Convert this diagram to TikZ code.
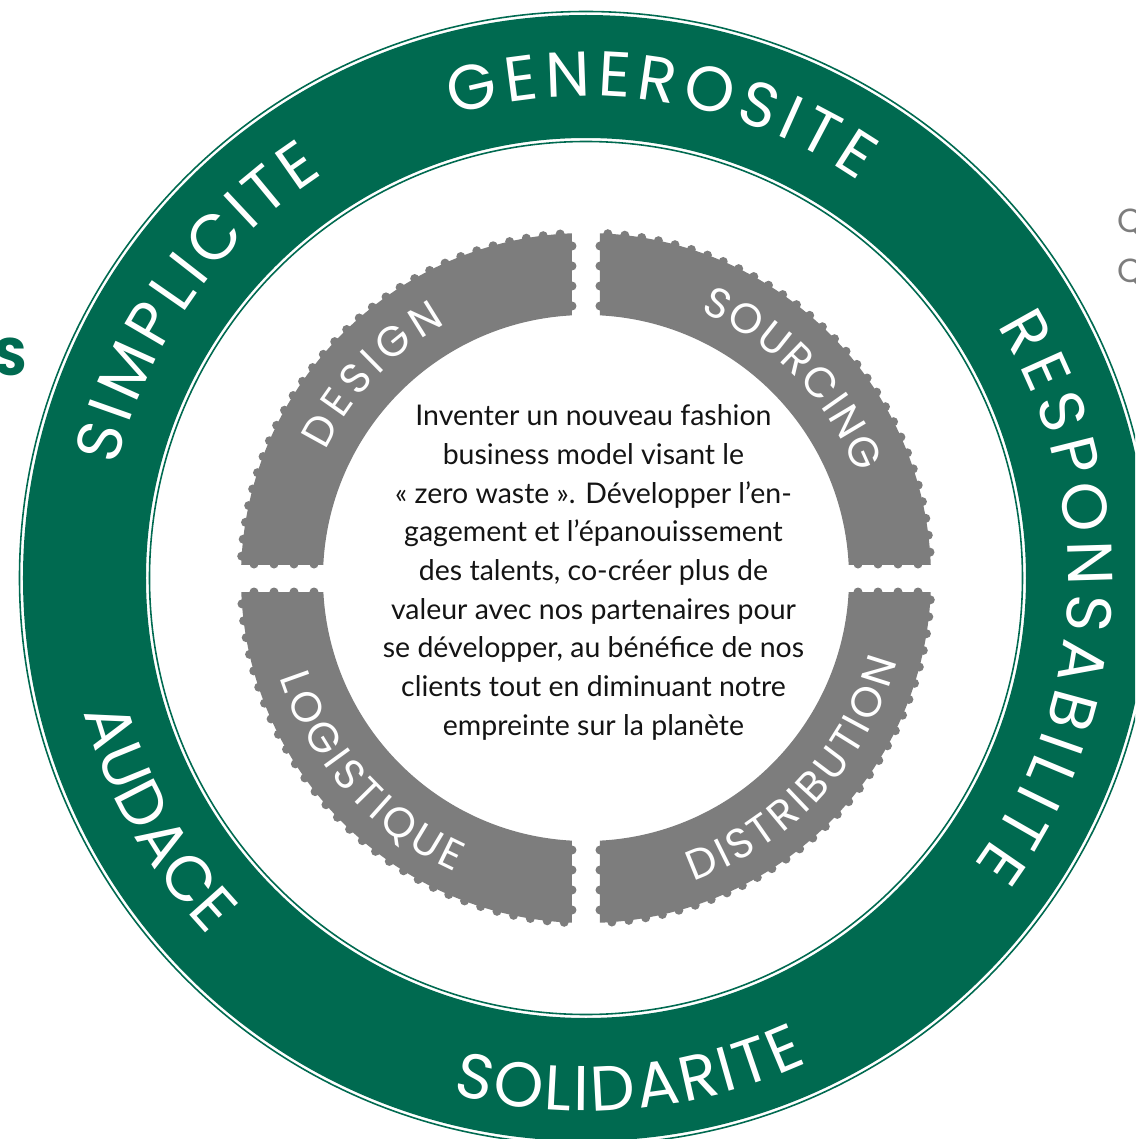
\documentclass[tikz,border=0pt]{standalone}
\usepackage{fontspec}
\setmainfont{Lato}
\newfontfamily\capsfont{Poppins}
\usetikzlibrary{decorations.text}
\definecolor{ringgreen}{RGB}{0,106,80}
\definecolor{stampgray}{RGB}{125,125,125}
\definecolor{inkblack}{RGB}{20,20,20}
\newcommand\valuefont{\capsfont\fontsize{18}{20}\selectfont}
\newcommand\stepfont{\capsfont\fontsize{12}{14}\selectfont}
\newcommand\bodyfont{\fontsize{8.1}{11}\selectfont}
\begin{document}
\begin{tikzpicture}[x=0.01cm,y=0.01cm,
  valueword/.style={decorate, decoration={text along path, text align={fit to path},
      text color=white, text={|\valuefont|#1}}},
  stepword/.style={decorate, decoration={text along path, text align={fit to path},
      text color=white, text={|\stepfont|#1}}},
  bump/.style={fill=stampgray}]
\useasboundingbox (-586,-561) rectangle (549,578);
\clip (-586,-561) rectangle (549,578);

% outer ring of values
\fill[ringgreen, even odd rule] (0,0) circle[radius=563] circle[radius=440];
\draw[ringgreen, line width=0.45pt] (0,0) circle[radius=566.5];
\draw[ringgreen, line width=0.45pt] (0,0) circle[radius=436.5];

% four perforated segments of the value chain
\foreach \sx/\sy/\a in {1/1/0, -1/1/90, -1/-1/180, 1/-1/270} {
  \begin{scope}
    \clip (\sx*14,\sy*14) rectangle (\sx*360,\sy*360);
    \fill[stampgray, even odd rule] (0,0) circle[radius=345] circle[radius=263];
  \end{scope}
  \foreach \k in {0,...,29}
    \fill[bump] ({\a+4.3+\k*2.83}:345) circle[radius=4.5];
  \foreach \d in {272,292,312,332} {
    \fill[bump] (\sx*14,\sy*\d) circle[radius=4.5];
    \fill[bump] (\sx*\d,\sy*14) circle[radius=4.5];
  }
}

% values
\path[valueword=SIMPLICITE] (166.5:482) arc[start angle=166.5, end angle=123, radius=482];
\path[valueword=GENEROSITE] (106:482) arc[start angle=106, end angle=55.5, radius=482];
\path[valueword=RESPONSABILITE] (31.5:482) arc[start angle=31.5, end angle=-36.5, radius=482];
\path[valueword=SOLIDARITE] (255.5:533) arc[start angle=255.5, end angle=294.5, radius=533];
\path[valueword=AUDACE] (195:520) arc[start angle=195, end angle=223.5, radius=520];

% steps
\path[stepword=DESIGN] (154:290) arc[start angle=154, end angle=119, radius=290];
\path[stepword=SOURCING] (66.7:290) arc[start angle=66.7, end angle=21, radius=290];
\path[stepword=LOGISTIQUE] (198:322) arc[start angle=198, end angle=246, radius=322];
\path[stepword=DISTRIBUTION] (289.5:322) arc[start angle=289.5, end angle=345, radius=322];

% mission statement
\node[align=center, font=\bodyfont, text=inkblack, inner sep=0] (mission) at (7.5,5.5)
  {Inventer un nouveau fashion\\
   business model visant le\\
   « zero waste ». Développer l’en-\\
   gagement et l’épanouissement\\
   des talents, co-créer plus de\\
   valeur avec nos partenaires pour\\
   se développer, au bénéfice de nos\\
   clients tout en diminuant notre\\
   empreinte sur la planète};

% neighbouring page content
\node[anchor=base east, inner sep=0, text=ringgreen, font=\capsfont\bfseries\fontsize{15}{16}\selectfont] (leftword) at (-558,203) {S};
\node[anchor=base west, inner sep=0, text=stampgray, font=\capsfont\fontsize{9.5}{11}\selectfont] (qone) at (531,345) {Q};
\node[anchor=base west, inner sep=0, text=stampgray, font=\capsfont\fontsize{9.5}{11}\selectfont] (qtwo) at (531,295) {Q};
\end{tikzpicture}
\end{document}
